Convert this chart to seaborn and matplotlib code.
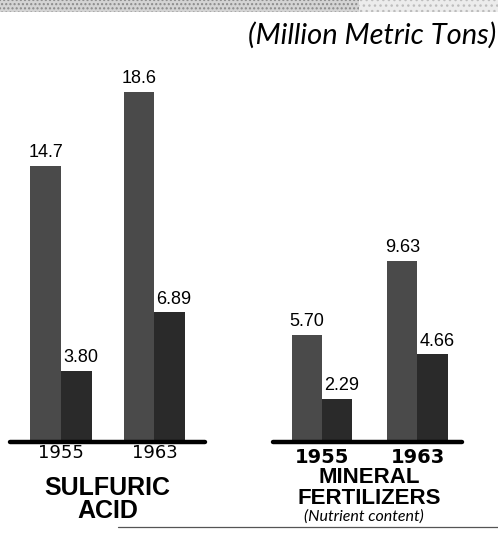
import matplotlib
matplotlib.use("Agg")
import matplotlib.pyplot as plt
from matplotlib.patches import Rectangle
from matplotlib.lines import Line2D
import pandas as pd
import seaborn as sns

years = ["1955", "1963"]
sulfuric_acid_a = [14.7, 18.6]
sulfuric_acid_b = [3.80, 6.89]
fertilizers_a = [5.70, 9.63]
fertilizers_b = [2.29, 4.66]
unit_label = "(Million Metric Tons)"

sns.set_style("white")
plt.rcParams["font.family"] = ["Liberation Sans", "DejaVu Sans"]
plt.rcParams["text.color"] = "black"

W, H = 498, 535
fig = plt.figure(figsize=(W / 100, H / 100), dpi=100)

def px_axes(x0, x1, y_base, y_top):
    return fig.add_axes([x0 / W, (H - y_base) / H, (x1 - x0) / W, (y_base - y_top) / H])

def make_df(a, b):
    rows = []
    for y, v in zip(years, a):
        rows.append({"year": y, "series": "a", "value": v})
    for y, v in zip(years, b):
        rows.append({"year": y, "series": "b", "value": v})
    return pd.DataFrame(rows)

def fmt(v):
    return f"{v:.1f}" if v >= 10 else f"{v:.2f}"

def draw_panel(ax, df, width, xlim, year_font, year_off):
    sns.barplot(data=df, x="year", y="value", hue="series", palette=["#4a4a4a", "#2a2a2a"],
                width=width, saturation=1, legend=False, linewidth=0, ax=ax)
    ax.set_ylim(0, 20)
    ax.set_xlim(*xlim)
    ax.axis("off")
    ax.axhline(0, color="black", lw=3.2, clip_on=False, zorder=5)
    for i, cont in enumerate(ax.containers):
        dx = 0 if i == 0 else 3
        for bar in cont:
            v = bar.get_height()
            ax.annotate(fmt(v), (bar.get_x() + bar.get_width() / 2, v), xytext=(dx, 3.5),
                        textcoords="offset points", ha="center", va="bottom", fontsize=13,
                        family=["Liberation Sans", "DejaVu Sans"])
    for k, y in enumerate(years):
        ax.annotate(y, (k, 0), xytext=(0, -year_off), textcoords="offset points",
                    ha="center", va="baseline", **year_font)

# left panel: sulfuric acid
ax1 = px_axes(10, 205, 442, 66)
draw_panel(ax1, make_df(sulfuric_acid_a, sulfuric_acid_b), 0.66, (-0.545, 1.54),
           dict(fontsize=13, family=["DejaVu Sans"]), 11.5)
for txt, off in [("SULFURIC", 38), ("ACID", 55)]:
    ax1.annotate(txt, (0.5, 0), xytext=(0, -off), textcoords="offset points", ha="center",
                 va="baseline", fontsize=18, fontweight="bold",
                 family=["Liberation Sans", "DejaVu Sans"])

# right panel: mineral fertilizers
ax2 = px_axes(273, 462, 442, 66)
draw_panel(ax2, make_df(fertilizers_a, fertilizers_b), 0.63, (-0.513, 1.466),
           dict(fontsize=14, fontweight="bold", family=["DejaVu Sans"]), 15)
for txt, off in [("MINERAL", 29.5), ("FERTILIZERS", 45)]:
    ax2.annotate(txt, (0.5, 0), xytext=(0, -off), textcoords="offset points", ha="center",
                 va="baseline", fontsize=16, fontweight="bold",
                 family=["Liberation Sans", "DejaVu Sans"])
ax2.annotate("(Nutrient content)", (0.5, 0), xytext=(-4, -57), textcoords="offset points",
             ha="center", va="baseline", fontsize=11.5, style="italic",
             family=["Lato", "DejaVu Sans"])

fig.text(496 / W, (H - 44) / H, unit_label, ha="right", va="baseline", fontsize=21,
         style="italic", family=["Lato", "DejaVu Sans"])

# scanned header strip and bottom rule
fig.add_artist(Rectangle((0, 1 - 12 / H), 0.72, 12 / H, transform=fig.transFigure,
                         facecolor="#d4d4d4", edgecolor="#8a8a8a", hatch="....", lw=0))
fig.add_artist(Rectangle((0.72, 1 - 12 / H), 0.28, 12 / H, transform=fig.transFigure,
                         facecolor="#ececec", edgecolor="#bdbdbd", hatch="...", lw=0))
fig.add_artist(Line2D([118 / W, 1], [(H - 527) / H] * 2, color="#555555", lw=0.9))

fig.savefig("out.png", dpi=100)
